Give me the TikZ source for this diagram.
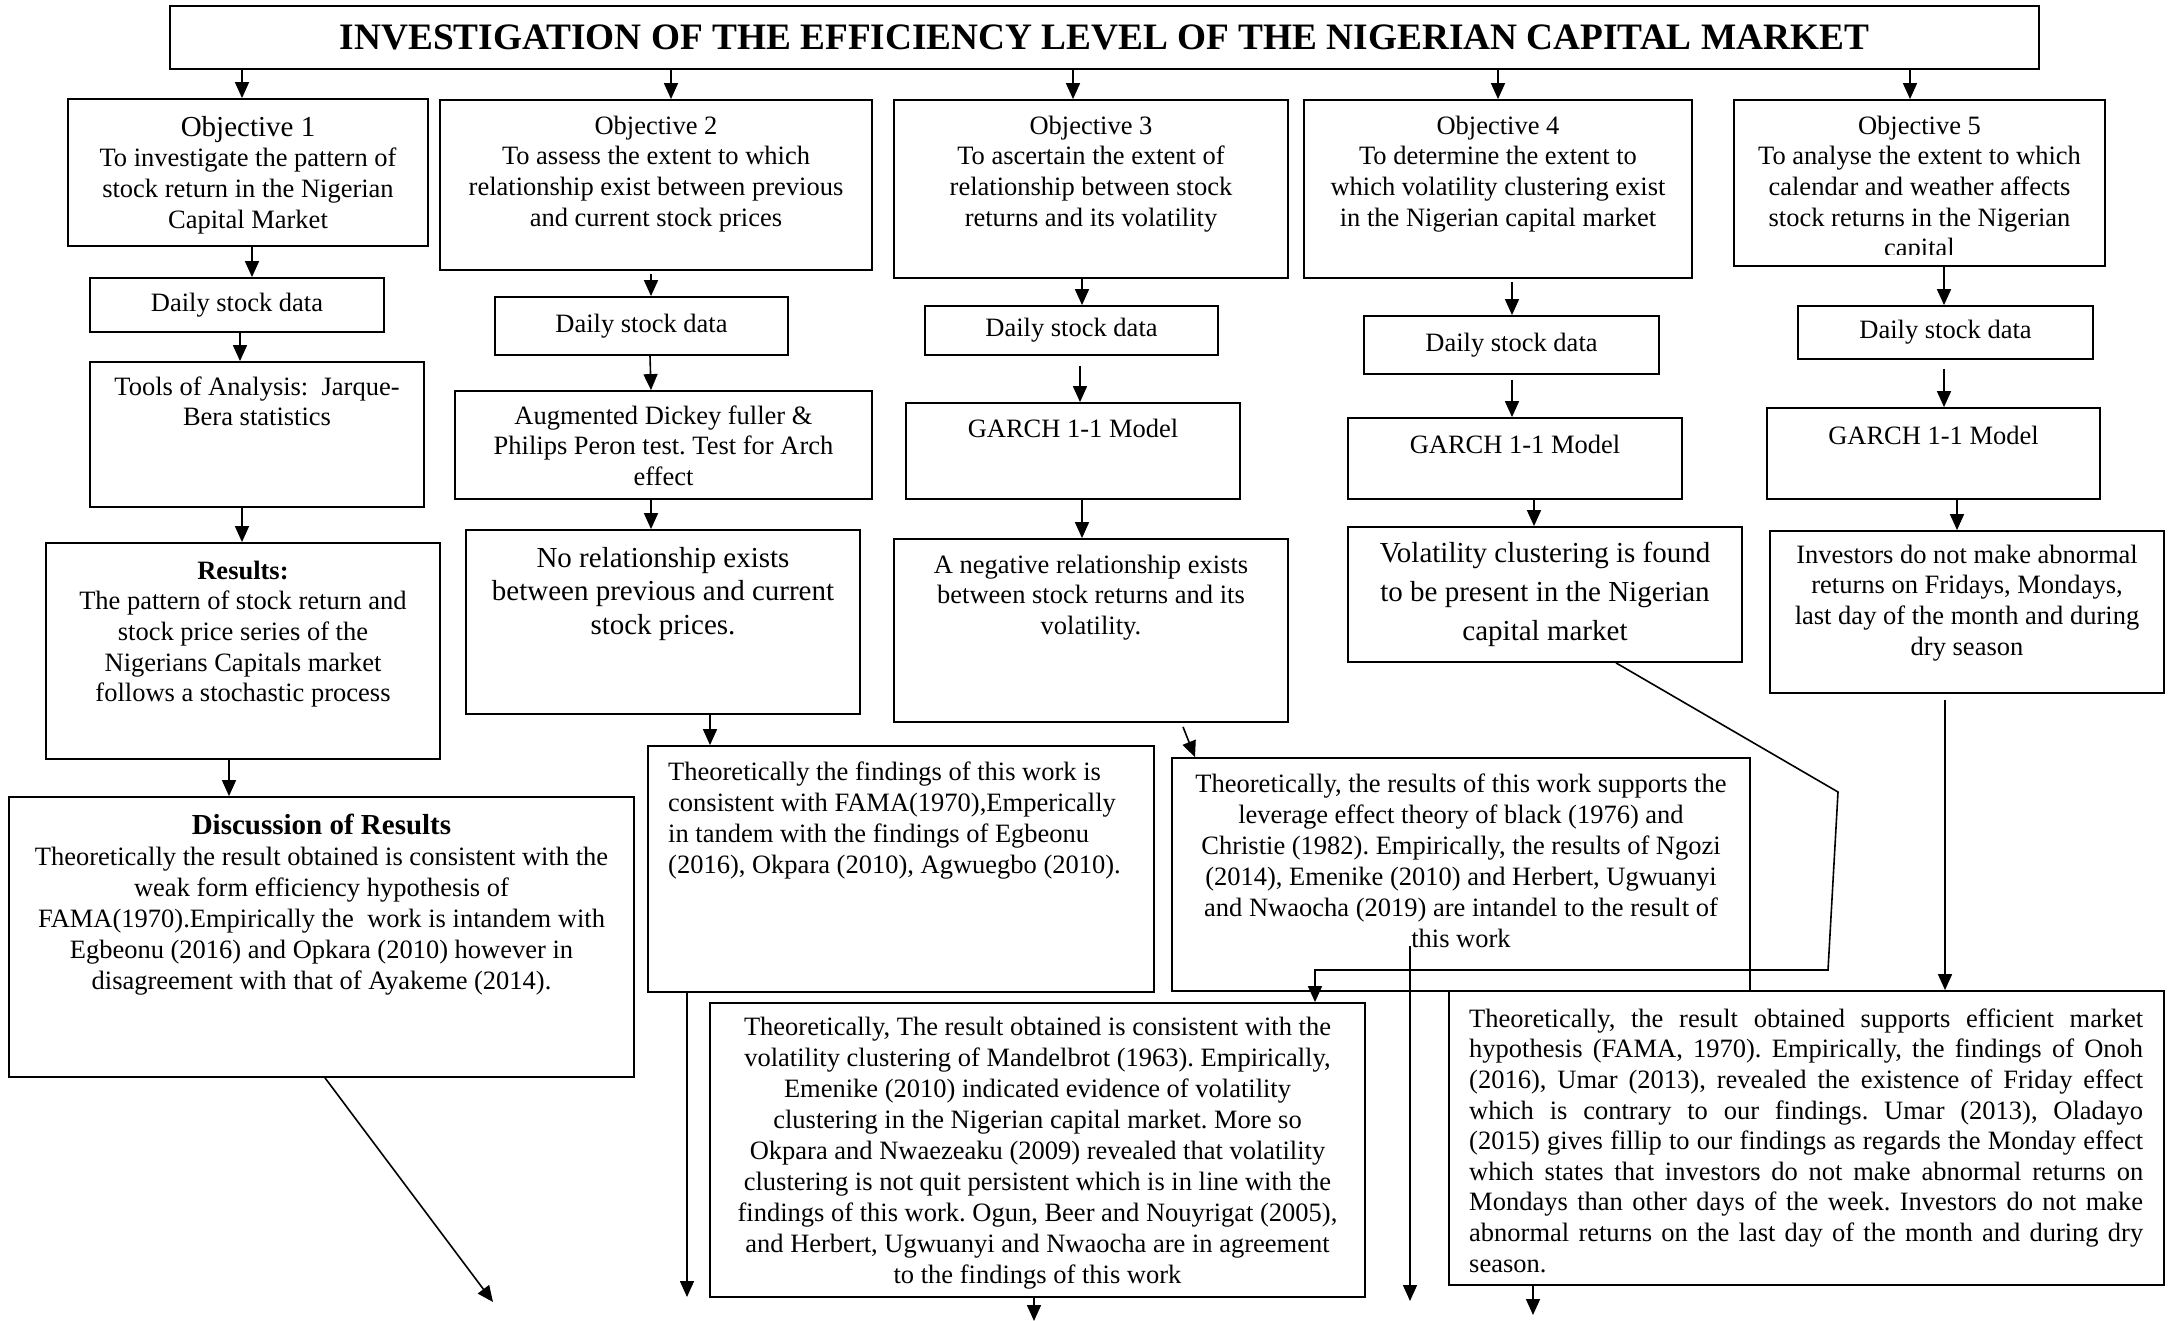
\documentclass[tikz,border=0pt]{standalone}
\usepackage{fontspec}
\setmainfont{Liberation Serif}
\usetikzlibrary{arrows.meta,calc}
\frenchspacing
\newcommand\mkbox[6]{\node[box, minimum width={#4-#2}, minimum height={#5-#3}] (#1) at ({(#2+#4)/2},{(#3+#5)/2}) {#6};}
\begin{document}
\begin{tikzpicture}[x=1pt,y=-1pt,
  box/.style={draw, line width=1.8pt, inner sep=0pt, font=\fontsize{26.5}{30.6}\selectfont},
  tn/.style={inner sep=0pt, anchor=north, align=center, font=\fontsize{26.5}{30.6}\selectfont},
  tnw/.style={inner sep=0pt, anchor=north west, align=left, font=\fontsize{26.5}{31}\selectfont},
  tnb/.style={tn, font=\fontsize{29}{33.5}\selectfont},
  arr/.style={-{Triangle[length=16pt,width=14pt]}, line width=1.6pt},
  ln/.style={line width=1.6pt}]
\useasboundingbox (0,0) rectangle (2170,1321);

% ---------- boxes ----------
\mkbox{title}{170}{6}{2039}{69}{\fontsize{37.3}{40}\selectfont\bfseries INVESTIGATION OF THE EFFICIENCY LEVEL OF THE NIGERIAN CAPITAL MARKET}
\mkbox{o1}{68}{99}{428}{246}{}
\mkbox{o2}{440}{100}{872}{270}{}
\mkbox{o3}{894}{100}{1288}{278}{}
\mkbox{o4}{1304}{100}{1692}{278}{}
\mkbox{o5}{1734}{100}{2105}{266}{}
\mkbox{d1}{90}{278}{384}{332}{Daily stock data}
\mkbox{d2}{495}{297}{788}{355}{Daily stock data}
\mkbox{d3}{925}{306}{1218}{355}{Daily stock data}
\mkbox{d4}{1364}{316}{1659}{374}{Daily stock data}
\mkbox{d5}{1798}{306}{2093}{359}{Daily stock data}
\mkbox{t1}{90}{362}{424}{507}{}
\mkbox{adf}{455}{391}{872}{499}{}
\mkbox{g3}{906}{403}{1240}{499}{}
\mkbox{g4}{1348}{418}{1682}{499}{}
\mkbox{g5}{1767}{408}{2100}{499}{}
\mkbox{r1}{46}{543}{440}{759}{}
\mkbox{r2}{466}{530}{860}{714}{}
\mkbox{r3}{894}{539}{1288}{722}{}
\mkbox{r4}{1348}{527}{1742}{662}{}
\mkbox{r5}{1770}{531}{2164}{693}{}
\mkbox{dc1}{9}{797}{634}{1077}{}
\mkbox{dc2}{648}{746}{1154}{992}{}
\mkbox{dc3}{1172}{758}{1750}{991}{}
\mkbox{dc4}{710}{1003}{1365}{1297}{}
\mkbox{dc5}{1449}{991}{2164}{1285}{}

% ---------- texts ----------
\node[tn] (o1t) at (248,114.6) {\strut{\fontsize{29}{33}\selectfont Objective 1}\\To investigate the pattern of\\stock return in the Nigerian\\Capital Market};
\node[tn] (o2t) at (656,112.6) {\strut Objective 2\\To assess the extent to which\\relationship exist between previous\\and current stock prices};
\node[tn] (o3t) at (1091,112.6) {\strut Objective 3\\To ascertain the extent of\\relationship between stock\\returns and its volatility};
\node[tn] (o4t) at (1498,112.6) {\strut Objective 4\\To determine the extent to\\which volatility clustering exist\\in the Nigerian capital market};
\begin{scope}
\clip (1734,100) rectangle (2105,255);
\node[tn] (o5t) at (1919.5,112.6) {\strut Objective 5\\To analyse the extent to which\\calendar and weather affects\\stock returns in the Nigerian\\capital};
\end{scope}

\node[tn] (t1t) at (257,373.6) {\strut Tools of Analysis:\ \ Jarque-\\Bera statistics};
\node[tn] (adft) at (663.5,402.6) {\strut Augmented Dickey fuller \&\\Philips Peron test. Test for Arch\\effect};
\node[tn] (g3t) at (1073,415.6) {\strut GARCH 1-1 Model};
\node[tn] (g4t) at (1515,431.6) {\strut GARCH 1-1 Model};
\node[tn] (g5t) at (1933.5,422.6) {\strut GARCH 1-1 Model};

\node[tn] (r1t) at (243,557.6) {\strut\textbf{Results:}\\The pattern of stock return and\\stock price series of the\\Nigerians Capitals market\\follows a stochastic process};
\node[tnb] (r2t) at (663,543.5) {\strut No relationship exists\\between previous and current\\stock prices.};
\node[tn] (r3t) at (1091,551.6) {\strut A negative relationship exists\\between stock returns and its\\volatility.};
\node[tn, font=\fontsize{29}{39}\selectfont] (r4t) at (1545,534.7) {\strut Volatility clustering is found\\to be present in the Nigerian\\capital market};
\node[tn] (r5t) at (1967,541.6) {\strut Investors do not make abnormal\\returns on Fridays, Mondays,\\last day of the month and during\\dry season};

\node[tn, font=\fontsize{26.5}{31}\selectfont] (dc1t) at (321.5,812.3) {\strut{\fontsize{29}{33}\selectfont\bfseries Discussion of Results}\\Theoretically the result obtained is consistent with the\\weak form efficiency hypothesis of\\FAMA(1970).Empirically the\ \ work is intandem with\\Egbeonu (2016) and Opkara (2010) however in\\disagreement with that of Ayakeme (2014).};
\node[tnw] (dc2t) at (668,758.3) {\strut Theoretically the findings of this work is\\consistent with FAMA(1970),Emperically\\in tandem with the findings of Egbeonu\\(2016), Okpara (2010), Agwuegbo (2010).};
\node[tn, font=\fontsize{26.5}{31}\selectfont] (dc3t) at (1461,770.3) {\strut Theoretically, the results of this work supports the\\leverage effect theory of black (1976) and\\Christie (1982). Empirically, the results of Ngozi\\(2014), Emenike (2010) and Herbert, Ugwuanyi\\and Nwaocha (2019) are intandel to the result of\\this work};
\node[tn, font=\fontsize{26.5}{31}\selectfont] (dc4t) at (1037.5,1013.3) {\strut Theoretically, The result obtained is consistent with the\\volatility clustering of Mandelbrot (1963). Empirically,\\Emenike (2010) indicated evidence of volatility\\clustering in the Nigerian capital market. More so\\Okpara and Nwaezeaku (2009) revealed that volatility\\clustering is not quit persistent which is in line with the\\findings of this work. Ogun, Beer and Nouyrigat (2005),\\and Herbert, Ugwuanyi and Nwaocha are in agreement\\to the findings of this work};
\node[tnw, font=\fontsize{26.5}{30.6}\selectfont] (dc5t) at (1469,1005.6) {\strut\makebox[674pt][s]{Theoretically, the result obtained supports efficient market}\\\makebox[674pt][s]{hypothesis (FAMA, 1970). Empirically, the findings of Onoh}\\\makebox[674pt][s]{(2016), Umar (2013), revealed the existence of Friday effect}\\\makebox[674pt][s]{which is contrary to our findings. Umar (2013), Oladayo}\\\makebox[674pt][s]{(2015) gives fillip to our findings as regards the Monday effect}\\\makebox[674pt][s]{which states that investors do not make abnormal returns on}\\\makebox[674pt][s]{Mondays than other days of the week. Investors do not make}\\\makebox[674pt][s]{abnormal returns on the last day of the month and during dry}\\season.};

% ---------- connectors ----------
\draw[arr] (title.south -| 242,0) -- (o1.north -| 242,0);
\draw[arr] (title.south -| 671,0) -- (o2.north -| 671,0);
\draw[arr] (title.south -| 1073,0) -- (o3.north -| 1073,0);
\draw[arr] (title.south -| 1498,0) -- (o4.north -| 1498,0);
\draw[arr] (title.south -| 1910,0) -- (o5.north -| 1910,0);

\draw[arr] (o1.south -| 252,0) -- (d1.north -| 252,0);
\draw[arr] ($(o2.south -| 651,0)+(0,3)$) -- (d2.north -| 651,0);
\draw[arr] (o3.south -| 1082,0) -- (d3.north -| 1082,0);
\draw[arr] ($(o4.south -| 1512,0)+(0,3)$) -- (d4.north -| 1512,0);
\draw[arr] (o5.south -| 1944,0) -- (d5.north -| 1944,0);

\draw[arr] (d1.south -| 240,0) -- (t1.north -| 240,0);
\draw[arr] (d2.south -| 650,0) -- (adf.north -| 651,0);
\draw[arr] ($(d3.south -| 1080,0)+(0,10)$) -- (g3.north -| 1080,0);
\draw[arr] ($(d4.south -| 1512,0)+(0,5)$) -- (g4.north -| 1512,0);
\draw[arr] ($(d5.south -| 1944,0)+(0,9)$) -- (g5.north -| 1944,0);

\draw[arr] (t1.south -| 242,0) -- (r1.north -| 242,0);
\draw[arr] (adf.south -| 651,0) -- (r2.north -| 651,0);
\draw[arr] (g3.south -| 1082,0) -- (r3.north -| 1082,0);
\draw[arr] (g4.south -| 1534,0) -- (r4.north -| 1534,0);
\draw[arr] (g5.south -| 1957,0) -- (r5.north -| 1957,0);

\draw[arr] (r1.south -| 229,0) -- (dc1.north -| 229,0);
\draw[arr] (r2.south -| 710,0) -- (dc2.north -| 710,0);
\draw[arr] ($(r3.south -| 1183,0)+(0,4)$) -- (dc3.north -| 1195,0);
\draw[arr] (r4.south -| 1616,0) -- (1838,792) -- (1828,970) -- (1315,970) -- (dc4.north -| 1315,0);
\draw[arr] ($(r5.south -| 1945,0)+(0,6)$) -- (dc5.north -| 1945,0);

\coordinate (e1) at (493,1302);
\coordinate (e2) at (687,1297);
\coordinate (e3) at (1410,1301);
\coordinate (e4) at (1034,1321);
\coordinate (e5) at (1533,1315);
\draw[arr] (dc1.south -| 325,0) -- (e1);
\draw[arr] (dc2.south -| e2) -- (e2);
\draw[arr] ($(dc3.south -| e3)+(0,-46)$) -- (e3);
\draw[arr] (dc4.south -| e4) -- (e4);
\draw[arr] (dc5.south -| e5) -- (e5);
\end{tikzpicture}
\end{document}
